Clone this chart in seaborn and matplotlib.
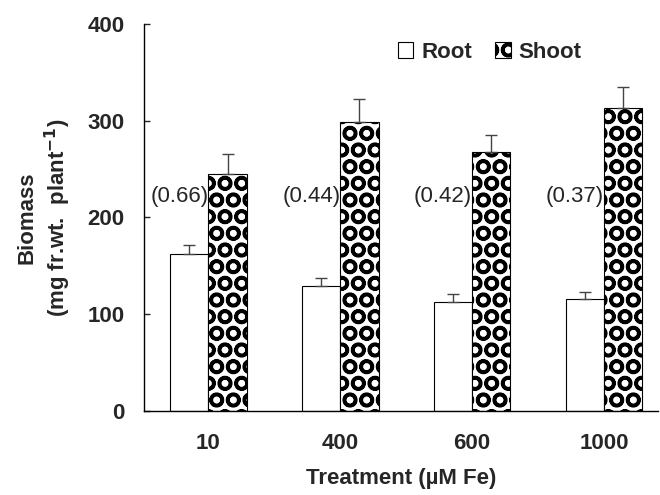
import matplotlib
matplotlib.use("Agg")
import matplotlib.pyplot as plt
import seaborn as sns
import pandas as pd
import numpy as np

treatments = ["10", "400", "600", "1000"]
root_mass = [162, 129, 112, 116]
root_err = [9, 8, 9, 7]
shoot_mass = [245, 298, 267, 313]
shoot_err = [20, 24, 18, 22]
ratios = ["(0.66)", "(0.44)", "(0.42)", "(0.37)"]

sns.set_theme(style="white")
plt.rcParams["font.family"] = ["Liberation Sans", "DejaVu Sans"]
plt.rcParams["hatch.linewidth"] = 2.5
plt.rcParams["hatch.color"] = "black"

FS = 16

df = pd.DataFrame({
    "Treatment": treatments * 2,
    "Part": ["Root"] * 4 + ["Shoot"] * 4,
    "Biomass": root_mass + shoot_mass,
})

fig = plt.figure(figsize=(6.6, 4.95), dpi=100)
ax = fig.add_axes([0.218, 0.170, 0.779, 0.782])

sns.barplot(data=df, x="Treatment", y="Biomass", hue="Part", order=treatments,
            hue_order=["Root", "Shoot"], palette=["white", "white"],
            width=0.58, edgecolor="black", linewidth=0.8, errorbar=None, ax=ax)

n = len(treatments)
patches = ax.patches[:2 * n]
for i, p in enumerate(patches):
    if i >= n:
        p.set_hatch("O")

# error bars (upward only)
for i, p in enumerate(patches):
    x = p.get_x() + p.get_width() / 2
    h = p.get_height()
    err = root_err[i] if i < n else shoot_err[i - n]
    ax.errorbar(x, h, yerr=[[0], [err]], fmt="none", ecolor="#444444",
                elinewidth=1.0, capsize=4, capthick=1.0, zorder=1)

# ratio labels
for i in range(n):
    p = patches[n + i]
    ax.text(p.get_x(), 221, ratios[i], ha="right", va="center", fontsize=FS)

ax.set_ylim(0, 400)
ax.set_xlim(-0.49, 3.41)
ax.set_yticks([0, 100, 200, 300, 400])
for lab in ax.get_yticklabels() + ax.get_xticklabels():
    lab.set_fontweight("bold")
    lab.set_fontsize(FS)
ax.tick_params(axis="y", direction="in", length=4, width=1, left=True, pad=14)
ax.tick_params(axis="x", length=0, pad=16)
sns.despine(ax=ax)
for s in ["left", "bottom"]:
    ax.spines[s].set_color("black")
    ax.spines[s].set_linewidth(1.0)

ax.set_xlabel("Treatment (\u00b5M Fe)", fontsize=FS, fontweight="bold", labelpad=10)
ax.set_ylabel("Biomass\n(mg fr.wt.  plant$^{\\mathbf{-1}}$)", fontsize=FS,
              fontweight="bold", labelpad=10, linespacing=1.25)

handles, labels = ax.get_legend_handles_labels()
handles[1].set_hatch("O")
leg = ax.legend(handles, labels, loc="upper right", bbox_to_anchor=(0.89, 1.005),
                ncol=2, frameon=False, fontsize=FS, handlelength=0.7,
                handleheight=0.7, handletextpad=0.35, columnspacing=1.05)
for t in leg.get_texts():
    t.set_fontweight("bold")

fig.savefig("out.png", dpi=100)
